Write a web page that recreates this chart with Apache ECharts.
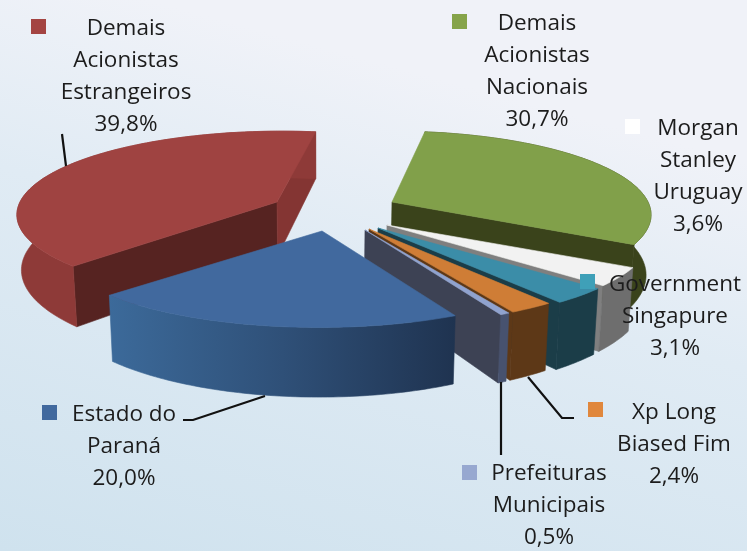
<!DOCTYPE html>
<html>
<head>
<meta charset="utf-8">
<style>html,body{margin:0;padding:0;}#chart{width:747px;height:551px;}</style>
<script src="https://cdn.jsdelivr.net/npm/echarts@6/dist/echarts.min.js"></script>
</head>
<body>
<div id="chart"></div>
<script>
//----------------------Data----------------------
// clockwise from the top of the pie
let share_names = [
    "Demais\nAcionistas\nNacionais",
    "Morgan\nStanley\nUruguay",
    "Government\nSingapure",
    "Xp Long\nBiased Fim",
    "Prefeituras\nMunicipais",
    "Estado do\nParaná",
    "Demais\nAcionistas\nEstrangeiros"
];
let share_values = [30.7, 3.6, 3.1, 2.4, 0.5, 20.0, 39.8];
//----------------------Style---------------------
let pie_start_angle = 8.5;
let pie_ry = 81.7;
let pie_persp = 0.153;
let pie_vanish_x = 320;
// painted back to front
let draw_order = [6, 0, 1, 2, 3, 4, 5];
// where the point of the wedge is drawn, and the centre its rim is measured from
let slice_apex = [[392, 202], [387, 225], [378, 228], [369, 229], [365, 230], [322, 231], [277, 202]];
let slice_center = [[392, 202], [389, 225], [378, 228], [369, 229], [365, 230], [319, 231], [282, 202]];
let slice_rx = [256, 258, 265, 262, 262, 263, 262];
let slice_depth = [59, 59, 59, 59, 59, 59, 54];
let top_colors = ["#81a04a", "#f2f2f2", "#3b8da8", "#cf7d36", "#90a3cf", "#41699e", "#9f4341"];
let start_wall_colors = [null, null, null, null, null, null, "#562321"];
let end_wall_colors = ["#3a431b", "#7f7f7f", "#1b3d48", "#5d3817", "#3d4254", null, "#843533"];
let marker_colors = ["#86a44a", "#ffffff", "#3fa0b8", "#e0873c", "#97a8d0", "#41699e", "#a44442"];
let arc_fills = [
    "#3a431b",
    "#6e6e6e",
    "#1b3d48",
    "#5d3817",
    "#47526f",
    new echarts.graphic.LinearGradient(0, 0, 1, 0, [
        {offset: 0, color: "#3c6a9a"},
        {offset: 0.5, color: "#2f5078"},
        {offset: 1, color: "#1f3350"}
    ]),
    "#8e3a38"
];
//--------------------Location--------------------
let label_pos = [[537, 8], [698, 113], [675, 269], [674, 397], [549, 458], [124, 399], [126, 13]];
let marker_pos = [[452, 14], [625, 119], [580, 274], [588, 402], [462, 465], [42, 405], [31, 19]];
let leader_lines = [
    [[62, 134], [66, 166]],
    [[265, 396], [193, 420], [183, 420]],
    [[528, 377], [562, 418], [574, 418]],
    [[501, 382], [501, 455]]
];
//------------------Pie geometry------------------
let share_total = share_values.reduce(function (a, b) { return a + b; }, 0);
let slice_angles = [];
let running_angle = pie_start_angle;
for (let i = 0; i < share_values.length; i++) {
    let next_angle = running_angle + share_values[i] / share_total * 360;
    slice_angles.push([running_angle, next_angle]);
    running_angle = next_angle;
}

function project(index, angle) {
    let rad = angle * Math.PI / 180;
    let s = 1 / (1 + pie_persp * Math.cos(rad));
    return [
        slice_center[index][0] + slice_rx[index] * Math.sin(rad) * s,
        slice_center[index][1] - pie_ry * Math.cos(rad) * s,
        s
    ];
}
function drop(index, point, s) {
    return [point[0] + (pie_vanish_x - point[0]) * 0.015, point[1] + slice_depth[index] * s];
}
function poly(points, fill) {
    // thin stroke in the fill colour closes the hairline between touching faces
    return {type: 'polygon', shape: {points: points}, style: {fill: fill, stroke: fill, lineWidth: 0.6}};
}
function radial_wall(index, angle, fill) {
    let apex = slice_apex[index];
    let rim = project(index, angle);
    let points = [apex, [rim[0], rim[1]], drop(index, rim, rim[2]), drop(index, apex, 1)];
    return poly(points, fill);
}
function render_slice(params, api) {
    let index = api.value(0);
    let from = slice_angles[index][0];
    let to = slice_angles[index][1];
    let steps = Math.max(6, Math.round(to - from));
    let rim_top = [];
    let rim_bottom = [];
    for (let k = 0; k <= steps; k++) {
        let p = project(index, from + (to - from) * k / steps);
        rim_top.push([p[0], p[1]]);
        rim_bottom.push(drop(index, p, p[2]));
    }
    let children = [];
    if (start_wall_colors[index]) children.push(radial_wall(index, from, start_wall_colors[index]));
    if (end_wall_colors[index]) children.push(radial_wall(index, to, end_wall_colors[index]));
    children.push(poly(rim_top.concat(rim_bottom.slice().reverse()), arc_fills[index]));
    children.push(poly([slice_apex[index]].concat(rim_top), top_colors[index]));
    return {type: 'group', children: children};
}
//---------------------Labels---------------------
let label_font = '22.5px "Open Sans", sans-serif';
let chart_graphics = [];
for (let i = 0; i < share_names.length; i++) {
    chart_graphics.push({
        type: 'text', z: 10, x: label_pos[i][0], y: label_pos[i][1],
        style: {
            text: share_names[i] + "\n" + share_values[i].toFixed(1).replace(".", ",") + "%",
            font: label_font, lineHeight: 32, fill: "#1c1c1c",
            textAlign: 'center', textVerticalAlign: 'top'
        }
    });
    chart_graphics.push({
        type: 'rect', z: 10, x: marker_pos[i][0], y: marker_pos[i][1],
        shape: {width: 15, height: 15},
        style: {fill: marker_colors[i]}
    });
}
leader_lines.forEach(function (line) {
    chart_graphics.push({
        type: 'polyline', z: 9, shape: {points: line},
        style: {stroke: "#111111", lineWidth: 2.2, fill: null}
    });
});
//------------------Generate Graph------------------
let share_chart = echarts.init(document.getElementById("chart"));
share_chart.setOption({
    animation: false,
    backgroundColor: new echarts.graphic.LinearGradient(0.2, 0, 0, 1, [
        {offset: 0, color: "#f0f2f8"},
        {offset: 0.35, color: "#e0ebf4"},
        {offset: 1, color: "#cfe2ee"}
    ]),
    graphic: {elements: chart_graphics},
    series: [{
        type: 'custom',
        coordinateSystem: 'none',
        renderItem: render_slice,
        silent: true,
        data: draw_order.map(function (i) { return [i, share_values[i]]; })
    }]
});
</script>
</body>
</html>
